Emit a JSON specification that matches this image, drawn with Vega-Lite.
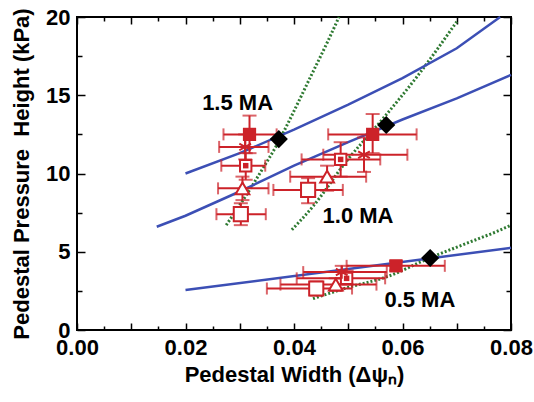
{
  "$schema": "https://vega.github.io/schema/vega-lite/v6.json",
  "width": 434,
  "height": 313,
  "autosize": {"type": "none"},
  "padding": {"left": 77, "top": 17, "right": 23, "bottom": 72},
  "background": "white",
  "config": {
    "view": {"stroke": "black", "strokeWidth": 2},
    "axis": {
      "domain": false, "tickColor": "black", "tickWidth": 1.5, "grid": false,
      "labelFont": "Liberation Sans", "labelFontWeight": "bold", "labelFontSize": 22, "labelColor": "black",
      "titleFont": "Liberation Sans", "titleFontWeight": "bold", "titleFontSize": 22, "titleColor": "black",
      "labelOverlap": false, "labelFlush": false
    }
  },
  "datasets": {
    "green": [
      {"s": "g15", "x": 0.0275, "y": 6.7}, {"s": "g15", "x": 0.0319, "y": 9.0}, {"s": "g15", "x": 0.0343, "y": 10.35},
      {"s": "g15", "x": 0.0368, "y": 11.8}, {"s": "g15", "x": 0.0393, "y": 13.5}, {"s": "g15", "x": 0.0428, "y": 16.0},
      {"s": "g15", "x": 0.0463, "y": 18.5}, {"s": "g15", "x": 0.0483, "y": 20.0},
      {"s": "g10", "x": 0.0396, "y": 6.4}, {"s": "g10", "x": 0.0435, "y": 7.9}, {"s": "g10", "x": 0.0497, "y": 10.8},
      {"s": "g10", "x": 0.0559, "y": 13.3}, {"s": "g10", "x": 0.0627, "y": 16.2}, {"s": "g10", "x": 0.0700, "y": 19.7},
      {"s": "g05", "x": 0.0435, "y": 2.0}, {"s": "g05", "x": 0.0498, "y": 2.7}, {"s": "g05", "x": 0.0571, "y": 3.4},
      {"s": "g05", "x": 0.0650, "y": 4.6}, {"s": "g05", "x": 0.0719, "y": 5.55}, {"s": "g05", "x": 0.0774, "y": 6.3},
      {"s": "g05", "x": 0.0800, "y": 6.7}
    ],
    "blue": [
      {"s": "b15", "x": 0.02, "y": 10.0}, {"s": "b15", "x": 0.03, "y": 11.3}, {"s": "b15", "x": 0.04, "y": 12.8},
      {"s": "b15", "x": 0.05, "y": 14.4}, {"s": "b15", "x": 0.06, "y": 16.1}, {"s": "b15", "x": 0.07, "y": 18.0},
      {"s": "b15", "x": 0.078, "y": 20.0},
      {"s": "b10", "x": 0.0147, "y": 6.6}, {"s": "b10", "x": 0.02, "y": 7.3}, {"s": "b10", "x": 0.03, "y": 8.85},
      {"s": "b10", "x": 0.04, "y": 10.5}, {"s": "b10", "x": 0.05, "y": 12.0}, {"s": "b10", "x": 0.06, "y": 13.45},
      {"s": "b10", "x": 0.07, "y": 14.8}, {"s": "b10", "x": 0.08, "y": 16.3},
      {"s": "b05", "x": 0.02, "y": 2.55}, {"s": "b05", "x": 0.08, "y": 5.25}
    ],
    "pts": [
      {"g": "1.5", "m": "fsq", "x": 0.0318, "y": 12.5, "xlo": 0.0270, "xhi": 0.0368, "ylo": 11.3, "yhi": 13.7},
      {"g": "1.5", "m": "ast", "x": 0.0310, "y": 11.7, "xlo": 0.0262, "xhi": 0.0353, "ylo": 10.9, "yhi": 12.5},
      {"g": "1.5", "m": "sqsq", "x": 0.0311, "y": 10.5, "xlo": 0.0266, "xhi": 0.0347, "ylo": 9.6, "yhi": 11.3},
      {"g": "1.5", "m": "tri", "x": 0.0305, "y": 9.05, "xlo": 0.0260, "xhi": 0.0353, "ylo": 8.3, "yhi": 9.8},
      {"g": "1.5", "m": "osq", "x": 0.0302, "y": 7.4, "xlo": 0.0257, "xhi": 0.0348, "ylo": 6.7, "yhi": 8.1},
      {"g": "1.0", "m": "fsq", "x": 0.0545, "y": 12.5, "xlo": 0.0463, "xhi": 0.0626, "ylo": 11.3, "yhi": 13.8},
      {"g": "1.0", "m": "ast", "x": 0.0529, "y": 11.2, "xlo": 0.0454, "xhi": 0.0609, "ylo": 10.1, "yhi": 12.3},
      {"g": "1.0", "m": "sqsq", "x": 0.0486, "y": 10.9, "xlo": 0.0414, "xhi": 0.0559, "ylo": 9.8, "yhi": 12.0},
      {"g": "1.0", "m": "tri", "x": 0.0461, "y": 9.8, "xlo": 0.0393, "xhi": 0.0533, "ylo": 8.9, "yhi": 10.5},
      {"g": "1.0", "m": "osq", "x": 0.0426, "y": 8.95, "xlo": 0.0362, "xhi": 0.0490, "ylo": 8.1, "yhi": 9.7},
      {"g": "0.5", "m": "fsq", "x": 0.0588, "y": 4.1, "xlo": 0.0497, "xhi": 0.0678, "ylo": 3.8, "yhi": 4.4},
      {"g": "0.5", "m": "ast", "x": 0.0488, "y": 3.7, "xlo": 0.0417, "xhi": 0.0571, "ylo": 3.3, "yhi": 4.1},
      {"g": "0.5", "m": "sqsq", "x": 0.0497, "y": 3.3, "xlo": 0.0405, "xhi": 0.0568, "ylo": 2.9, "yhi": 3.8},
      {"g": "0.5", "m": "tri", "x": 0.0477, "y": 2.9, "xlo": 0.0375, "xhi": 0.0552, "ylo": 2.5, "yhi": 3.3},
      {"g": "0.5", "m": "osq", "x": 0.0441, "y": 2.65, "xlo": 0.0350, "xhi": 0.0507, "ylo": 2.2, "yhi": 3.1}
    ],
    "diam": [
      {"x": 0.0372, "y": 12.2}, {"x": 0.0570, "y": 13.1}, {"x": 0.0651, "y": 4.6}
    ],
    "labels": [
      {"t": "1.5 MA", "x": 0.0296, "y": 14.06},
      {"t": "1.0 MA", "x": 0.0518, "y": 6.82},
      {"t": "0.5 MA", "x": 0.0632, "y": 1.49}
    ]
  },
  "layer": [
    {
      "data": {"name": "green"},
      "mark": {"type": "line", "color": "#2f7a32", "strokeWidth": 3, "strokeDash": [2, 2], "interpolate": "monotone"},
      "encoding": {
        "x": {"field": "x", "type": "quantitative", "scale": {"domain": [0, 0.08], "nice": false, "zero": false},
          "axis": {"orient": "top", "values": [0, 0.01, 0.02, 0.03, 0.04, 0.05, 0.06, 0.07, 0.08],
            "tickSize": 7, "offset": -7, "labels": false, "title": null}},
        "y": {"field": "y", "type": "quantitative", "scale": {"domain": [0, 20], "nice": false, "zero": false},
          "axis": {"orient": "right", "values": [0, 5, 10, 15, 20],
            "tickSize": 8, "offset": -8, "labels": false, "title": null}},
        "detail": {"field": "s"}
      }
    },
    {
      "data": {"name": "blue"},
      "mark": {"type": "line", "color": "#3c4fb5", "strokeWidth": 2.5},
      "encoding": {
        "x": {"field": "x", "type": "quantitative", "scale": {"domain": [0, 0.08], "nice": false, "zero": false},
          "axis": {"orient": "bottom", "values": [0, 0.01, 0.02, 0.03, 0.04, 0.05, 0.06, 0.07, 0.08],
            "tickSize": 7, "offset": -7,
            "labelExpr": "round(datum.value*1000) % 20 == 0 ? format(datum.value, '.2f') : ''",
            "labelPadding": 7, "title": "Pedestal Width (Δψₙ)", "titlePadding": 6}},
        "y": {"field": "y", "type": "quantitative", "scale": {"domain": [0, 20], "nice": false, "zero": false},
          "axis": {"orient": "left", "values": [0, 5, 10, 15, 20],
            "tickSize": 8, "offset": -8,
            "labelExpr": "format(datum.value, 'd')",
            "labelPadding": 7, "title": "Pedestal Pressure\u00a0 Height (kPa)", "titlePadding": 12}},
        "detail": {"field": "s"}
      }
    },
    {
      "data": {"name": "pts"},
      "mark": {"type": "errorbar", "ticks": {"size": 12}, "thickness": 2, "color": "#cc2229"},
      "encoding": {
        "x": {"field": "xlo", "type": "quantitative", "scale": {"domain": [0, 0.08], "nice": false, "zero": false},
          "axis": {"orient": "bottom", "values": [0.005, 0.015, 0.025, 0.035, 0.045, 0.055, 0.065, 0.075],
            "tickSize": 4, "offset": -4, "labels": false, "title": null}},
        "x2": {"field": "xhi"},
        "y": {"field": "y", "type": "quantitative", "scale": {"domain": [0, 20], "nice": false, "zero": false},
          "axis": {"orient": "left", "values": [2.5, 7.5, 12.5, 17.5],
            "tickSize": 5, "offset": -5, "labels": false, "title": null}}
      }
    },
    {
      "data": {"name": "pts"},
      "mark": {"type": "errorbar", "ticks": {"size": 14}, "thickness": 2, "color": "#cc2229"},
      "encoding": {
        "y": {"field": "ylo", "type": "quantitative", "scale": {"domain": [0, 20], "nice": false, "zero": false},
          "axis": {"orient": "right", "values": [2.5, 7.5, 12.5, 17.5],
            "tickSize": 5, "offset": -5, "labels": false, "title": null}},
        "y2": {"field": "yhi"},
        "x": {"field": "x", "type": "quantitative", "scale": {"domain": [0, 0.08], "nice": false, "zero": false},
          "axis": {"orient": "top", "values": [0.005, 0.015, 0.025, 0.035, 0.045, 0.055, 0.065, 0.075],
            "tickSize": 4, "offset": -4, "labels": false, "title": null}}
      }
    },
    {
      "data": {"name": "pts"},
      "transform": [{"filter": "datum.m == 'osq'"}],
      "mark": {"type": "point", "shape": "square", "size": 200, "filled": true, "fill": "white", "stroke": "#cc2229", "strokeWidth": 2, "opacity": 1},
      "encoding": {
        "x": {"field": "x", "type": "quantitative", "scale": {"domain": [0, 0.08], "nice": false, "zero": false}, "axis": null},
        "y": {"field": "y", "type": "quantitative", "scale": {"domain": [0, 20], "nice": false, "zero": false}, "axis": null}
      }
    },
    {
      "data": {"name": "pts"},
      "transform": [{"filter": "datum.m == 'tri'"}],
      "mark": {"type": "point", "shape": "triangle-up", "size": 190, "filled": true, "fill": "white", "stroke": "#cc2229", "strokeWidth": 2, "opacity": 1},
      "encoding": {
        "x": {"field": "x", "type": "quantitative", "scale": {"domain": [0, 0.08], "nice": false, "zero": false}, "axis": null},
        "y": {"field": "y", "type": "quantitative", "scale": {"domain": [0, 20], "nice": false, "zero": false}, "axis": null}
      }
    },
    {
      "data": {"name": "pts"},
      "transform": [{"filter": "datum.m == 'sqsq'"}],
      "mark": {"type": "point", "shape": "square", "size": 130, "filled": true, "fill": "white", "stroke": "#cc2229", "strokeWidth": 2, "opacity": 1},
      "encoding": {
        "x": {"field": "x", "type": "quantitative", "scale": {"domain": [0, 0.08], "nice": false, "zero": false}, "axis": null},
        "y": {"field": "y", "type": "quantitative", "scale": {"domain": [0, 20], "nice": false, "zero": false}, "axis": null}
      }
    },
    {
      "data": {"name": "pts"},
      "transform": [{"filter": "datum.m == 'sqsq'"}],
      "mark": {"type": "point", "shape": "square", "size": 30, "filled": true, "color": "#cc2229", "opacity": 1},
      "encoding": {
        "x": {"field": "x", "type": "quantitative", "scale": {"domain": [0, 0.08], "nice": false, "zero": false}, "axis": null},
        "y": {"field": "y", "type": "quantitative", "scale": {"domain": [0, 20], "nice": false, "zero": false}, "axis": null}
      }
    },
    {
      "data": {"name": "pts"},
      "transform": [{"filter": "datum.m == 'fsq'"}],
      "mark": {"type": "point", "shape": "square", "size": 175, "filled": true, "color": "#cc2229", "opacity": 1},
      "encoding": {
        "x": {"field": "x", "type": "quantitative", "scale": {"domain": [0, 0.08], "nice": false, "zero": false}, "axis": null},
        "y": {"field": "y", "type": "quantitative", "scale": {"domain": [0, 20], "nice": false, "zero": false}, "axis": null}
      }
    },
    {
      "data": {"name": "pts"},
      "transform": [{"filter": "datum.m == 'ast'"}],
      "mark": {"type": "point", "shape": "M0,-1L0,1M-0.87,-0.5L0.87,0.5M-0.87,0.5L0.87,-0.5", "size": 180, "filled": false, "stroke": "#cc2229", "strokeWidth": 2, "opacity": 1},
      "encoding": {
        "x": {"field": "x", "type": "quantitative", "scale": {"domain": [0, 0.08], "nice": false, "zero": false}, "axis": null},
        "y": {"field": "y", "type": "quantitative", "scale": {"domain": [0, 20], "nice": false, "zero": false}, "axis": null}
      }
    },
    {
      "data": {"name": "diam"},
      "mark": {"type": "point", "shape": "diamond", "size": 330, "filled": true, "color": "black", "opacity": 1},
      "encoding": {
        "x": {"field": "x", "type": "quantitative", "scale": {"domain": [0, 0.08], "nice": false, "zero": false}, "axis": null},
        "y": {"field": "y", "type": "quantitative", "scale": {"domain": [0, 20], "nice": false, "zero": false}, "axis": null}
      }
    },
    {
      "data": {"name": "labels"},
      "mark": {"type": "text", "font": "Liberation Sans", "fontWeight": "bold", "fontSize": 22, "align": "center", "baseline": "alphabetic", "color": "black"},
      "encoding": {
        "x": {"field": "x", "type": "quantitative", "scale": {"domain": [0, 0.08], "nice": false, "zero": false}, "axis": null},
        "y": {"field": "y", "type": "quantitative", "scale": {"domain": [0, 20], "nice": false, "zero": false}, "axis": null},
        "text": {"field": "t"}
      }
    }
  ],
  "resolve": {"axis": {"x": "independent", "y": "independent"}}
}
